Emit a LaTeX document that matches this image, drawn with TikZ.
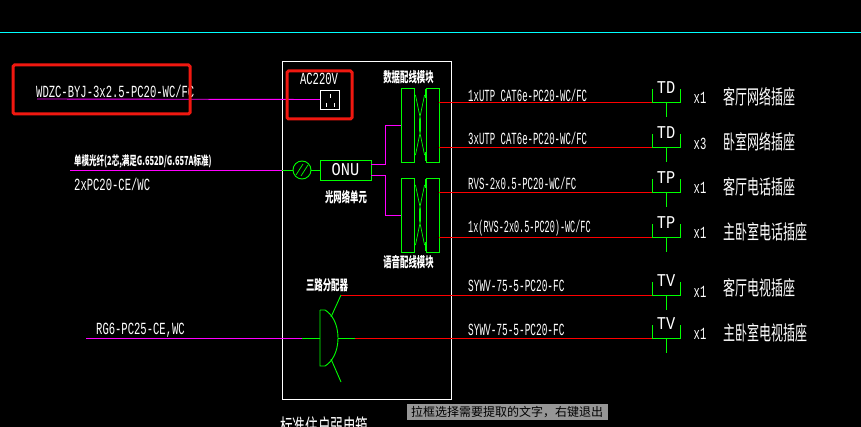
\documentclass[tikz,border=0pt]{standalone}
\usepackage{fontspec}
\usepackage{xcolor}
\usetikzlibrary{calc, positioning}
\newfontfamily\cadfont[FakeStretch=0.62]{Liberation Mono}
\newfontfamily\cadnarrow[FakeStretch=0.53]{Liberation Mono}
\newfontfamily\cadslim[FakeStretch=0.5]{Liberation Mono}
\newfontfamily\cadmid[FakeStretch=0.555]{Liberation Mono}
\newfontfamily\cadwide[FakeStretch=0.85]{Liberation Mono}
\newfontfamily\cadzh[FakeStretch=0.6]{Noto Sans CJK SC}
\newfontfamily\tipfont{Noto Sans CJK SC}
\definecolor{cadred}{RGB}{255,0,0}
\definecolor{cadgreen}{RGB}{0,255,0}
\definecolor{cadmag}{RGB}{255,0,255}
\definecolor{cadcyan}{RGB}{0,255,255}
\definecolor{markred}{RGB}{240,24,16}
\definecolor{tipgray}{RGB}{150,150,150}
\tikzset{
    gline/.style={cadgreen, line width=0.9pt},
    mline/.style={cadmag, line width=0.9pt},
    rline/.style={cadred, line width=0.9pt},
    gbox/.style={draw=cadgreen, line width=0.9pt, inner sep=0pt},
    markbox/.style={draw=markred, line width=3pt, rounded corners=1.5pt},
    cadtxt/.style={white, font=\cadfont\fontsize{17}{17}\selectfont, inner sep=0pt},
    cbltxt/.style={white, font=\cadnarrow\fontsize{17}{17}\selectfont, inner sep=0pt},
    widetxt/.style={white, font=\cadwide\fontsize{18}{18}\selectfont, inner sep=0pt},
    zhtxt/.style={white, font=\cadzh\fontsize{20}{20}\selectfont, inner sep=0pt},
    zhsmall/.style={white, font=\cadzh\fontsize{14}{14}\selectfont\bfseries, inner sep=0pt}
}
\begin{document}
\begin{tikzpicture}[x=1pt, y=-1pt]
    \fill[black] (0,0) rectangle (861,427);
    \useasboundingbox (0,0) rectangle (861,427);
    \clip (0,0) rectangle (861,427);

    \draw[cadcyan, line width=0.9pt] (0,32) -- (861,32);
    \draw[white, line width=0.9pt] (282.5,61) rectangle (451.5,399);

    % Power
    \coordinate (pwrin) at (37,99);
    \node[draw=white, line width=0.9pt, minimum width=19pt, minimum height=19pt, inner sep=0pt] (socket) at (330,99.5) {};
    \draw[mline] (pwrin) -- (socket.west);
    \draw[white, line width=0.8pt] (330,94) -- (330,98) (326,103) -- (326,107) (334,103) -- (334,107);
    \node[cadtxt] (aclbl) at (319,79) {AC220V};
    \node[cadtxt, anchor=west] (pwrlbl) at (36,91) {WDZC-BYJ-3x2.5-PC20-WC/FC};

    % Fibre in
    \coordinate (fibin) at (70,170);
    \coordinate (fibbox) at (282,170);
    \node[gbox, minimum width=51pt, minimum height=20pt, text=white, font=\cadwide\fontsize{18}{18}\selectfont] (onu) at (345.5,170) {ONU};
    \node[draw=cadgreen, circle, line width=0.9pt, minimum size=18pt, inner sep=0pt] (fibjoint) at (302,170) {};
    \draw[mline] (fibin) -- (fibbox);
    \draw[gline] (fibbox) -- (fibjoint.west) (fibjoint.east) -- (onu.west);
    \draw[cadgreen, line width=0.7pt] (296,175) -- (303,164) (301,176) -- (308,165);
    \node[zhsmall, anchor=west, font=\cadzh\fontsize{12.5}{12.5}\selectfont\bfseries] (fiblbl) at (74,162) {单模光纤(2芯,满足G.652D/G.657A标准)};
    \node[cadtxt, anchor=west] (fibpipe) at (74,184) {2xPC20-CE/WC};
    \node[zhsmall] (onulbl) at (346,197) {光网络单元};

    % Patch modules
    \foreach \m/\yc in {data/125, tel/215} {
        \node[gbox, minimum width=13pt, minimum height=74pt] (\m L) at (407.5,\yc) {};
        \node[gbox, minimum width=13pt, minimum height=74pt] (\m R) at (432.5,\yc) {};
        \draw[cadgreen, line width=0.7pt] (\m L.east) ++(1,-30) -- ++(5,24) -- ++(0,12) -- ++(-5,24)
            (\m R.west) ++(-1,-30) -- ++(-5,24) -- ++(0,12) -- ++(5,24);
        \draw[cadgreen, line width=1.6pt] ($(\m L.east)!0.5!(\m R.west)+(0,-6)$) -- ++(0,12);
        \draw[cadgreen, line width=1.4pt] ($(\m L.east)+(0,-36)$) -- ++(0,9)
            ($(\m L.east)+(0,27)$) -- ++(0,9)
            ($(\m R.west)+(0,-36)$) -- ++(0,9)
            ($(\m R.west)+(0,27)$) -- ++(0,9);
    }
    \node[zhsmall] (datalbl) at (408.5,77) {数据配线模块};
    \node[zhsmall] (tellbl) at (408.5,262) {语音配线模块};
    \draw[mline] ([yshift=6pt]onu.east) -- ++(14,0) |- (dataL.west);
    \draw[mline] ([yshift=-5pt]onu.east) -- ++(14,0) |- (telL.west);

    % Outlets
    \foreach \i/\yl/\yt/\cbl/\jk/\cnt/\yc/\room/\yr in {
        1/102/95/{1xUTP CAT6e-PC20-WC/FC}/TD/x1/98/客厅网络插座/97,
        2/147/138/{3xUTP CAT6e-PC20-WC/FC}/TD/x3/144/卧室网络插座/142,
        3/192/183/{RVS-2x0.5-PC20-WC/FC}/TP/x1/188/客厅电话插座/187,
        4/237/228/{\cadslim 1x(RVS-2x0.5-PC20)-WC/FC}/TP/x1/233/主卧室电话插座/232,
        5/295/286/{\cadmid SYWV-75-5-PC20-FC}/TV/x1/292/客厅电视插座/288,
        6/338/330/{\cadmid SYWV-75-5-PC20-FC}/TV/x1/334/主卧室电视插座/333} {
        \coordinate (jack\i) at (652,\yl);
        \coordinate (jackr\i) at (680.5,\yl);
        \coordinate (jackm\i) at (666.5,\yl);
        \draw[gline] ($(jack\i)+(0,-13)$) -- (jack\i) -- (jackr\i) -- ++(0,-13);
        \draw[gline] (jackm\i) -- ++(0,15);
        \node[widetxt] (jlbl\i) at (666,\yl-14) {\jk};
        \node[cbltxt, anchor=west] (cbl\i) at (468,\yt) {\cbl};
        \node[cadtxt] (cnt\i) at (700,\yc) {\cnt};
        \node[zhtxt, anchor=west] (room\i) at (723,\yr) {\room};
    }
    \foreach \i in {1,2} \draw[rline] (dataR.east |- jack\i) -- (jack\i);
    \foreach \i in {3,4} \draw[rline] (telR.east |- jack\i) -- (jack\i);

    % Splitter
    \coordinate (tvin) at (86,338);
    \coordinate (tvmid) at (302,338);
    \coordinate (spl) at (320,338);
    \coordinate (splo) at (338,338);
    \coordinate (splt) at (355,338);
    \coordinate (brup) at (341,295);
    \coordinate (brdn) at (341,382);
    \draw[mline] (tvin) -- (tvmid);
    \draw[gline] (tvmid) -- (spl);
    \draw[gline] (320,310) -- (320,366) -- (325,366) .. controls (332,362) and (338,352) .. (splo)
        .. controls (338,324) and (332,314) .. (325,310) -- (320,310);
    \draw[gline] (splo) -- (splt);
    \draw[gline] (331,317) -- (brup);
    \draw[gline] (331,359) -- (brdn);
    \draw[rline] (brup) -- (jack5);
    \draw[rline] (splt) -- (jack6);
    \node[cadtxt, anchor=west] (tvlbl) at (96,330) {RG6-PC25-CE,WC};
    \node[zhsmall] (spllbl) at (327,285) {三路分配器};

    % Cut off at the bottom edge, tip above it
    \node[zhtxt, anchor=north west, font=\cadzh\fontsize{21}{21}\selectfont] (boxname) at (280,417) {标准住户弱电箱};
    \node[fill=tipgray, text=black, font=\tipfont\fontsize{12}{12}\selectfont, minimum width=201pt, minimum height=16pt, inner sep=0pt] (tip) at (507,412) {拉框选择需要提取的文字\char"FF0C\relax 右键退出};

    % Red marks
    \draw[markbox] (13,65) rectangle (190,114);
    \draw[markbox] (287,71) rectangle (352,119);
\end{tikzpicture}
\end{document}
